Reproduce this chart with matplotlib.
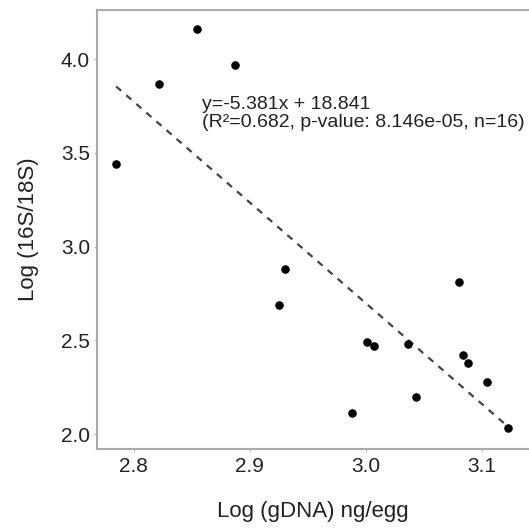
import matplotlib
matplotlib.use('Agg')
import matplotlib.pyplot as plt
import numpy as np

plt.rcParams['font.family'] = ['Liberation Sans', 'DejaVu Sans']

# data
log_gdna = [2.785, 2.822, 2.855, 2.887, 2.930, 2.925, 2.988, 3.001,
            3.007, 3.036, 3.043, 3.080, 3.084, 3.088, 3.104, 3.122]
log_ratio = [3.44, 3.87, 4.16, 3.97, 2.88, 2.69, 2.11, 2.49,
             2.47, 2.48, 2.20, 2.81, 2.42, 2.38, 2.28, 2.03]
slope, intercept = -5.381, 18.841
fit_label = 'y=-5.381x + 18.841\n(R²=0.682, p-value: 8.146e-05, n=16)'
xticks = [2.8, 2.9, 3.0, 3.1]
yticks = [2.0, 2.5, 3.0, 3.5, 4.0]

fig = plt.figure(figsize=(5.29, 5.31), dpi=100)
ax = fig.add_axes([97 / 529, 82 / 531, 432 / 529, 439 / 531])

ax.scatter(log_gdna, log_ratio, s=38, color='black', zorder=3, linewidths=0)
xs = np.array([min(log_gdna), max(log_gdna)])
ax.plot(xs, slope * xs + intercept, ls=(0, (3, 3)), color='#444444', lw=1.6)
ax.text(2.859, 3.805, fit_label, fontsize=14, color='#222222', va='top',
        linespacing=1.12)

ax.set_xlim(2.7685, 3.1405)
ax.set_ylim(1.92, 4.263)
ax.set_xticks(xticks)
ax.set_yticks(yticks)
ax.set_xticklabels([f'{v:.1f}' for v in xticks])
ax.set_yticklabels([f'{v:.1f}' for v in yticks])
ax.tick_params(labelsize=15, colors='#bbbbbb', labelcolor='#222222', length=2, width=0.8)
ax.tick_params(axis='x', pad=4)
ax.tick_params(axis='y', pad=3)

for side in ['left', 'top', 'bottom']:
    ax.spines[side].set_color('#aaaaaa')
    ax.spines[side].set_linewidth(1.5)
ax.spines['right'].set_visible(False)

ax.set_xlabel('Log (gDNA) ng/egg', fontsize=16, color='#222222', labelpad=18)
ax.set_ylabel('Log (16S/18S)', fontsize=16, color='#222222', labelpad=16)

fig.savefig('out.png', dpi=100, facecolor='white')
